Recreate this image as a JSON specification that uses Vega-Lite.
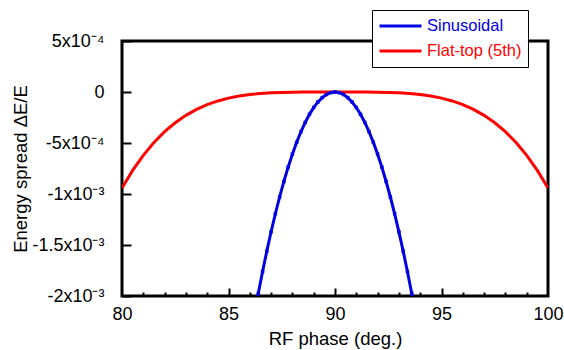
{
  "$schema": "https://vega.github.io/schema/vega-lite/v6.json",
  "width": 426,
  "height": 255,
  "autosize": {"type": "none"},
  "padding": {"left": 122, "top": 41, "right": 16, "bottom": 54},
  "background": "white",
  "config": {
    "font": "Liberation Sans",
    "view": {"stroke": "black", "strokeWidth": 3},
    "axis": {
      "grid": false,
      "domain": false,
      "labelColor": "black",
      "titleColor": "black",
      "tickColor": "black",
      "tickWidth": 2,
      "labelFont": "Liberation Sans",
      "titleFont": "Liberation Sans",
      "labelFontSize": 18,
      "titleFontSize": 18.5,
      "titleFontWeight": "normal",
      "labelFlush": false,
      "labelOverlap": false
    }
  },
  "data": {
    "values": [
      {"s": "Flat-top (5th)", "x": 80, "y": -0.0009414},
      {"s": "Flat-top (5th)", "x": 80.5, "y": -0.0007688},
      {"s": "Flat-top (5th)", "x": 81, "y": -0.0006208},
      {"s": "Flat-top (5th)", "x": 81.5, "y": -0.000495},
      {"s": "Flat-top (5th)", "x": 82, "y": -0.0003893},
      {"s": "Flat-top (5th)", "x": 82.5, "y": -0.0003013},
      {"s": "Flat-top (5th)", "x": 83, "y": -0.0002291},
      {"s": "Flat-top (5th)", "x": 83.5, "y": -0.0001706},
      {"s": "Flat-top (5th)", "x": 84, "y": -0.0001241},
      {"s": "Flat-top (5th)", "x": 84.5, "y": -0.0000877},
      {"s": "Flat-top (5th)", "x": 85, "y": -0.00006},
      {"s": "Flat-top (5th)", "x": 85.5, "y": -0.0000394},
      {"s": "Flat-top (5th)", "x": 86, "y": -0.0000246},
      {"s": "Flat-top (5th)", "x": 86.5, "y": -0.0000145},
      {"s": "Flat-top (5th)", "x": 87, "y": -0.0000078},
      {"s": "Flat-top (5th)", "x": 87.5, "y": -0.0000038},
      {"s": "Flat-top (5th)", "x": 88, "y": -0.0000015},
      {"s": "Flat-top (5th)", "x": 88.5, "y": -0.0000005},
      {"s": "Flat-top (5th)", "x": 89, "y": -0.0000001},
      {"s": "Flat-top (5th)", "x": 89.5, "y": 0},
      {"s": "Flat-top (5th)", "x": 90, "y": 0},
      {"s": "Flat-top (5th)", "x": 90.5, "y": 0},
      {"s": "Flat-top (5th)", "x": 91, "y": -0.0000001},
      {"s": "Flat-top (5th)", "x": 91.5, "y": -0.0000005},
      {"s": "Flat-top (5th)", "x": 92, "y": -0.0000015},
      {"s": "Flat-top (5th)", "x": 92.5, "y": -0.0000038},
      {"s": "Flat-top (5th)", "x": 93, "y": -0.0000078},
      {"s": "Flat-top (5th)", "x": 93.5, "y": -0.0000145},
      {"s": "Flat-top (5th)", "x": 94, "y": -0.0000246},
      {"s": "Flat-top (5th)", "x": 94.5, "y": -0.0000394},
      {"s": "Flat-top (5th)", "x": 95, "y": -0.00006},
      {"s": "Flat-top (5th)", "x": 95.5, "y": -0.0000877},
      {"s": "Flat-top (5th)", "x": 96, "y": -0.0001241},
      {"s": "Flat-top (5th)", "x": 96.5, "y": -0.0001706},
      {"s": "Flat-top (5th)", "x": 97, "y": -0.0002291},
      {"s": "Flat-top (5th)", "x": 97.5, "y": -0.0003013},
      {"s": "Flat-top (5th)", "x": 98, "y": -0.0003893},
      {"s": "Flat-top (5th)", "x": 98.5, "y": -0.000495},
      {"s": "Flat-top (5th)", "x": 99, "y": -0.0006208},
      {"s": "Flat-top (5th)", "x": 99.5, "y": -0.0007688},
      {"s": "Flat-top (5th)", "x": 100, "y": -0.0009414},
      {"s": "Sinusoidal", "x": 86.2, "y": -0.0021985},
      {"s": "Sinusoidal", "x": 86.4, "y": -0.0019733},
      {"s": "Sinusoidal", "x": 86.6, "y": -0.0017602},
      {"s": "Sinusoidal", "x": 86.8, "y": -0.0015592},
      {"s": "Sinusoidal", "x": 87.0, "y": -0.0013705},
      {"s": "Sinusoidal", "x": 87.2, "y": -0.0011939},
      {"s": "Sinusoidal", "x": 87.4, "y": -0.0010294},
      {"s": "Sinusoidal", "x": 87.6, "y": -0.0008772},
      {"s": "Sinusoidal", "x": 87.8, "y": -0.0007371},
      {"s": "Sinusoidal", "x": 88.0, "y": -0.0006092},
      {"s": "Sinusoidal", "x": 88.2, "y": -0.0004934},
      {"s": "Sinusoidal", "x": 88.4, "y": -0.0003899},
      {"s": "Sinusoidal", "x": 88.6, "y": -0.0002985},
      {"s": "Sinusoidal", "x": 88.8, "y": -0.0002193},
      {"s": "Sinusoidal", "x": 89.0, "y": -0.0001523},
      {"s": "Sinusoidal", "x": 89.2, "y": -0.0000975},
      {"s": "Sinusoidal", "x": 89.4, "y": -0.0000548},
      {"s": "Sinusoidal", "x": 89.6, "y": -0.0000244},
      {"s": "Sinusoidal", "x": 89.8, "y": -0.0000061},
      {"s": "Sinusoidal", "x": 90.0, "y": 0},
      {"s": "Sinusoidal", "x": 90.2, "y": -0.0000061},
      {"s": "Sinusoidal", "x": 90.4, "y": -0.0000244},
      {"s": "Sinusoidal", "x": 90.6, "y": -0.0000548},
      {"s": "Sinusoidal", "x": 90.8, "y": -0.0000975},
      {"s": "Sinusoidal", "x": 91.0, "y": -0.0001523},
      {"s": "Sinusoidal", "x": 91.2, "y": -0.0002193},
      {"s": "Sinusoidal", "x": 91.4, "y": -0.0002985},
      {"s": "Sinusoidal", "x": 91.6, "y": -0.0003899},
      {"s": "Sinusoidal", "x": 91.8, "y": -0.0004934},
      {"s": "Sinusoidal", "x": 92.0, "y": -0.0006092},
      {"s": "Sinusoidal", "x": 92.2, "y": -0.0007371},
      {"s": "Sinusoidal", "x": 92.4, "y": -0.0008772},
      {"s": "Sinusoidal", "x": 92.6, "y": -0.0010294},
      {"s": "Sinusoidal", "x": 92.8, "y": -0.0011939},
      {"s": "Sinusoidal", "x": 93.0, "y": -0.0013705},
      {"s": "Sinusoidal", "x": 93.2, "y": -0.0015592},
      {"s": "Sinusoidal", "x": 93.4, "y": -0.0017602},
      {"s": "Sinusoidal", "x": 93.6, "y": -0.0019733},
      {"s": "Sinusoidal", "x": 93.8, "y": -0.0021985}
    ]
  },
  "layer": [
    {
      "transform": [{"filter": "datum.s == 'Flat-top (5th)'"}],
      "mark": {"type": "line", "strokeWidth": 3, "clip": true},
      "encoding": {
        "x": {
          "field": "x", "type": "quantitative",
          "scale": {"domain": [80, 100], "nice": false, "zero": false},
          "axis": {"orient": "bottom", "values": [80, 85, 90, 95, 100], "ticks": false, "labelPadding": 9, "title": "RF phase (deg.)", "titlePadding": 6}
        },
        "y": {
          "field": "y", "type": "quantitative",
          "scale": {"domain": [-0.002, 0.0005], "nice": false, "zero": false},
          "axis": {
            "orient": "left",
            "values": [0.0005, 0, -0.0005, -0.001, -0.0015, -0.002],
            "ticks": false,
            "labelPadding": 18,
            "labelExpr": "datum.value > 0.0004 ? '5x10⁻⁴' : datum.value > -0.0001 ? '0' : datum.value > -0.0006 ? '-5x10⁻⁴' : datum.value > -0.0011 ? '-1x10⁻³' : datum.value > -0.0016 ? '-1.5x10⁻³' : '-2x10⁻³'",
            "title": "Energy spread ΔE/E",
            "titlePadding": 1
          }
        },
        "color": {
          "field": "s", "type": "nominal",
          "scale": {"domain": ["Sinusoidal", "Flat-top (5th)"], "range": ["#0000e0", "#ff0000"]},
          "legend": {
            "orient": "none", "legendX": 250, "legendY": -31, "title": null,
            "symbolType": "stroke", "symbolSize": 1764, "symbolStrokeWidth": 3,
            "clipHeight": 20, "labelFontSize": 16.5, "labelFont": "Liberation Sans",
            "padding": 6, "rowPadding": 5, "fillColor": "white", "strokeColor": "black",
            "labelOffset": 4,
            "encode": {"labels": {"update": {"fill": {"signal": "datum.label == 'Sinusoidal' ? '#0000e0' : '#ff0000'"}}}}
          }
        }
      }
    },
    {
      "transform": [{"filter": "datum.s == 'Sinusoidal'"}],
      "mark": {"type": "line", "strokeWidth": 3, "clip": true},
      "encoding": {
        "x": {
          "field": "x", "type": "quantitative",
          "scale": {"domain": [80, 100], "nice": false, "zero": false},
          "axis": {"orient": "bottom", "values": [81, 82, 83, 84, 86, 87, 88, 89, 91, 92, 93, 94, 96, 97, 98, 99], "tickSize": -4, "labels": false, "title": null}
        },
        "y": {
          "field": "y", "type": "quantitative",
          "scale": {"domain": [-0.002, 0.0005], "nice": false, "zero": false},
          "axis": {"orient": "left", "values": [0.0005, 0, -0.0005, -0.001, -0.0015, -0.002], "tickSize": -9, "labels": false, "title": null}
        },
        "color": {"field": "s", "type": "nominal"}
      }
    },
    {
      "transform": [{"filter": "datum.s == 'Sinusoidal' && datum.y >= -0.002"}],
      "mark": {"type": "point", "shape": "square", "filled": true, "size": 12, "color": "#0000e0", "opacity": 1},
      "encoding": {
        "x": {
          "field": "x", "type": "quantitative",
          "scale": {"domain": [80, 100], "nice": false, "zero": false},
          "axis": {"orient": "bottom", "values": [85, 90, 95], "tickSize": -8, "labels": false, "title": null}
        },
        "y": {
          "field": "y", "type": "quantitative",
          "scale": {"domain": [-0.002, 0.0005], "nice": false, "zero": false},
          "axis": null
        }
      }
    }
  ],
  "resolve": {"axis": {"x": "independent", "y": "independent"}}
}
